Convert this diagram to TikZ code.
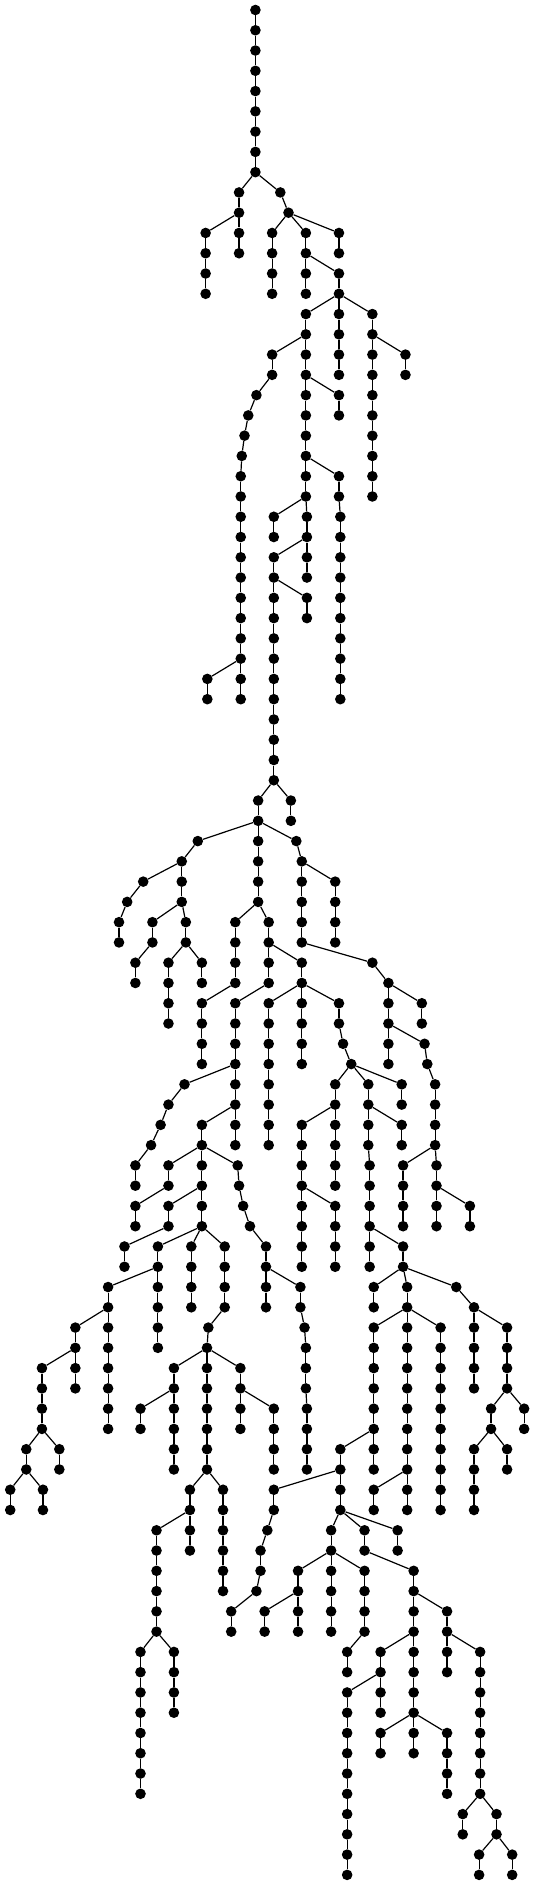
\documentclass[tikz,border=0pt]{standalone}
\usepackage{tikz}
\begin{document}
\begin{tikzpicture}[
    x=0.341pt, y=-20.27pt,
    vertex/.style={circle, fill=black, inner sep=0pt, minimum size=10.6pt},
    link/.style={line width=1.2pt, draw=black}
]
\useasboundingbox (0,-0.4933) rectangle (1568.9,92.5);
\node[vertex] (v749-0) at (749,0) {};
% branches: column / first level / last level / column of the parent
\foreach \x/\a/\b/\p in {
    749/1/8/749, 701/9/12/749, 822/9/9/749, 846/10/10/822,
    603/11/14/701, 798/11/14/846, 897/11/14/846, 994/11/12/846,
    994/13/14/897, 897/15/24/994, 994/15/18/994, 1092/15/24/994,
    798/17/18/897, 1189/17/18/1092, 752/19/19/798, 994/19/20/897,
    728/20/20/752, 717/21/21/728, 709/22/22/717, 706/23/34/709,
    994/23/24/897, 998/25/34/994, 803/25/26/897, 900/25/28/897,
    803/27/38/900, 900/29/30/803, 608/33/34/706,
    757/39/44/803, 853/39/40/803, 580/41/41/757, 869/41/41/757,
    533/42/44/580, 885/42/46/869, 420/43/43/533, 983/43/46/885,
    373/44/44/420, 349/45/46/373, 447/45/46/533, 545/45/46/533,
    690/45/48/757, 788/45/48/757, 397/47/48/447, 494/47/50/545,
    592/47/48/545, 885/47/48/788, 1092/47/47/885, 1139/48/52/1092,
    592/49/52/690, 690/49/56/788, 788/49/56/885, 885/49/52/885,
    994/49/50/885, 1237/49/50/1139, 1006/51/51/994, 1245/51/51/1139,
    1030/52/52/1006, 1253/52/52/1245, 541/53/53/690, 983/53/58/1030,
    1080/53/56/1030, 1178/53/54/1030, 1276/53/56/1253, 494/54/54/541,
    471/55/55/494, 592/55/60/690, 885/55/62/983, 1178/55/56/1080,
    443/56/56/471, 397/57/58/443, 494/57/58/592, 697/57/57/592,
    1084/57/62/1080, 1182/57/60/1276, 1280/57/60/1276, 701/58/58/697,
    397/59/60/494, 494/59/60/592, 713/59/59/701, 983/59/62/885,
    1378/59/60/1280, 733/60/60/713, 365/61/62/494, 463/61/66/592,
    561/61/64/592, 659/61/64/592, 780/61/64/733, 1182/61/62/1084,
    317/63/70/463, 881/63/64/780, 1096/63/64/1182, 1194/63/74/1182,
    1338/63/63/1182, 1390/64/68/1338, 221/65/68/317, 611/65/65/659,
    893/65/65/881, 1096/65/72/1194, 1292/65/74/1194, 1487/65/68/1390,
    607/66/72/611, 897/66/68/893, 123/67/70/221, 510/67/72/607,
    705/67/70/607, 412/69/70/510, 803/69/72/705, 900/69/72/897,
    1440/69/70/1487, 1537/69/70/1487, 77/71/72/123, 174/71/72/123,
    998/71/74/1096, 1390/71/74/1440, 1487/71/72/1440, 30/73/74/77,
    126/73/74/77, 557/73/76/607, 654/73/78/607, 803/73/74/998,
    1096/73/74/1194, 459/75/80/557, 784/75/75/803, 971/75/76/998,
    1069/75/76/998, 1166/75/76/998, 764/76/77/784, 874/77/80/971,
    971/77/80/971, 1069/77/80/971, 1213/77/86/1069, 752/78/78/764,
    678/79/80/752, 776/79/80/874, 1311/79/82/1213, 412/81/88/459,
    510/81/84/459, 1018/81/82/1069, 1116/81/84/1213, 1408/81/88/1311,
    1018/83/92/1116, 1116/85/86/1213, 1311/85/88/1213, 1357/89/90/1408,
    1456/89/90/1408, 1405/91/92/1456, 1502/91/92/1456}{
  \foreach \l in {\a,...,\b}{
    \pgfmathtruncatemacro\k{\l-1}
    \node[vertex] (v\x-\l) at (\x,\l) {};
    \ifnum\l=\a
      \draw[link] (v\p-\k) -- (v\x-\l);
    \else
      \draw[link] (v\x-\k) -- (v\x-\l);
    \fi
  }
}
\end{tikzpicture}
\end{document}
